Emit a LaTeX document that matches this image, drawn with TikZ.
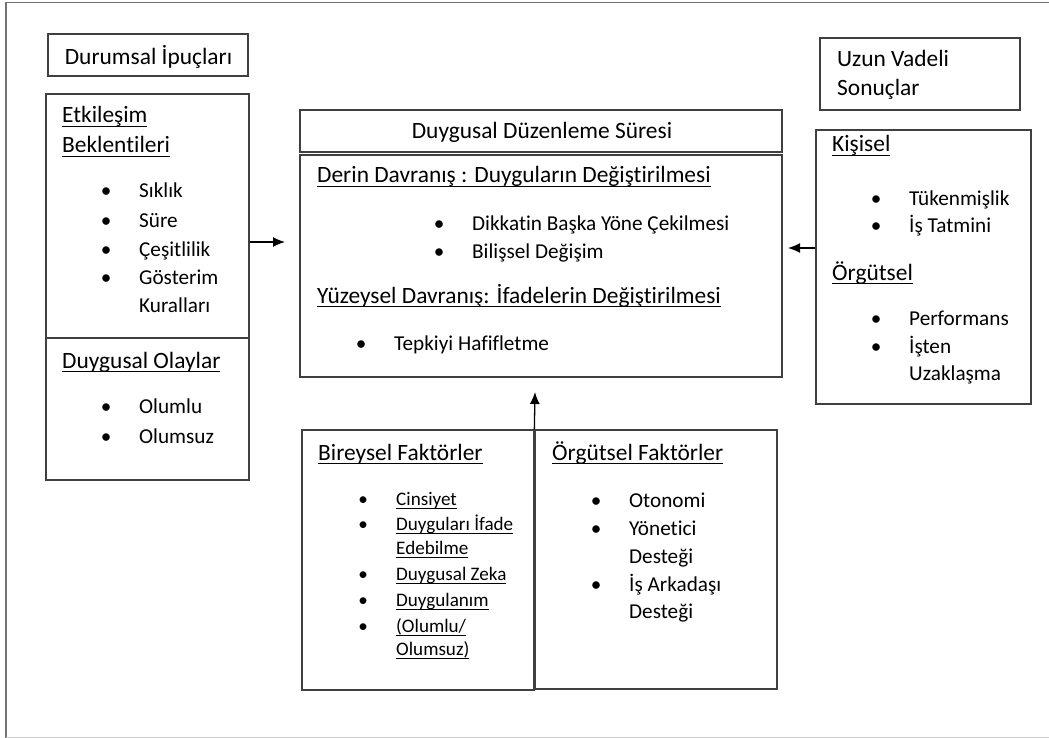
\documentclass[tikz,border=0pt]{standalone}
\usepackage{fontspec}
\setmainfont{Carlito}[Ligatures=NoCommon]
\usetikzlibrary{arrows.meta}
\newcommand\fHead{\fontsize{23.4pt}{28pt}\selectfont}
\newcommand\fItem{\fontsize{21.2pt}{26pt}\selectfont}
\newcommand\fSmall{\fontsize{19.1pt}{23pt}\selectfont}
\newcommand\undl[1]{\setbox0=\hbox{#1}\rlap{\rule[-4pt]{\wd0}{1pt}}\box0}
\newcommand\bul{\llap{\makebox[66pt][c]{•}}}
\tikzset{
  box/.style={draw=black!75, line width=1.3pt, inner sep=0pt},
  head/.style={anchor=base west, inner sep=0pt, font=\fHead},
  item/.style={anchor=base west, inner sep=0pt, font=\fItem},
  sitem/.style={anchor=base west, inner sep=0pt, font=\fSmall},
  arr/.style={line width=1.3pt, -{Latex[length=12pt,width=10pt]}}
}
\begin{document}
\begin{tikzpicture}[x=1pt, y=-1pt]
\useasboundingbox (0,0) rectangle (1049,738);
% page frame
\draw[black!55, line width=1.5pt] (6,738) -- (6,2.5) -- (1049,2.5);
\draw[black!20, line width=1pt] (6,737) -- (1049,737);
% boxes
\node[box, minimum width=200pt, minimum height=42pt] (cues) at (148,55) {};
\node[box, minimum width=203pt, minimum height=244pt] (ctxA) at (147.5,216) {};
\node[box, minimum width=203pt, minimum height=142pt] (ctxB) at (147.5,409) {};
\node[box, minimum width=482pt, minimum height=42pt] (regT) at (541,131) {};
\node[box, minimum width=482pt, minimum height=222pt] (reg) at (541,266) {};
\node[box, minimum width=200pt, minimum height=72pt] (longT) at (920,74) {};
\node[box, minimum width=215pt, minimum height=274pt] (outc) at (923.5,267) {};
\node[box, minimum width=232pt, minimum height=260pt] (indf) at (418,560) {};
\node[box, minimum width=242pt, minimum height=259pt] (orgf) at (656,559.5) {};
% arrows
\coordinate (tipL) at (285,242);
\coordinate (tipR) at (788,248);
\coordinate (tipU) at (535,392);
\draw[arr] (ctxA.east |- tipL) -- (tipL);
\draw[arr] (outc.west |- tipR) -- (tipR);
\draw[arr] (orgf.north west) -- (tipU);
% situational cues
\node[head, anchor=base] (cuesL) at (148.5,65) {Durumsal İpuçları};
\node[head] (intL1) at (62,123) {\undl{Etkileşim}};
\node[head] (intL2) at (62,153) {\undl{Beklentileri}};
\node[item] (int1) at (139,198) {\bul Sıklık};
\node[item] (int2) at (139,227) {\bul Süre};
\node[item] (int3) at (139,256) {\bul Çeşitlilik};
\node[item] (int4) at (139,284) {\bul Gösterim};
\node[item] (int4b) at (139,312) {Kuralları};
\node[head] (evL) at (62,368) {\undl{Duygusal Olaylar}};
\node[item] (ev1) at (139,413) {\bul Olumlu};
\node[item] (ev2) at (139,443) {\bul Olumsuz};
% regulation
\node[head, anchor=base] (regL) at (542,139) {Duygusal Düzenleme Süresi};
\node[head] (deepL) at (317,183) {\undl{Derin Davranış : Duyguların Değiştirilmesi}};
\node[item] (deep1) at (472,230) {\bul Dikkatin Başka Yöne Çekilmesi};
\node[item] (deep2) at (472,258) {\bul Bilişsel Değişim};
\node[head] (surfL) at (317,303) {\undl{Yüzeysel Davranış: İfadelerin Değiştirilmesi}};
\node[item] (surf1) at (394,350) {\bul Tepkiyi Hafifletme};
% long term outcomes
\node[head] (longL1) at (837,67) {Uzun Vadeli};
\node[head] (longL2) at (837,96) {Sonuçlar};
\node[head] (perL) at (832,152) {\undl{Kişisel}};
\node[item] (per1) at (909,205) {\bul Tükenmişlik};
\node[item] (per2) at (909,233) {\bul İş Tatmini};
\node[head] (orgL) at (832,280) {\undl{Örgütsel}};
\node[item] (org1) at (909,325) {\bul Performans};
\node[item] (org2) at (909,353) {\bul İşten};
\node[item] (org2b) at (909,380) {Uzaklaşma};
% individual factors
\node[head] (indL) at (318,460) {\undl{Bireysel Faktörler}};
\node[sitem] (ind1) at (396,505) {\bul\undl{Cinsiyet}};
\node[sitem] (ind2) at (396,530) {\bul\undl{Duyguları İfade}};
\node[sitem] (ind2b) at (396,554) {\undl{Edebilme}};
\node[sitem] (ind3) at (396,580) {\bul\undl{Duygusal Zeka}};
\node[sitem] (ind4) at (396,606) {\bul\undl{Duygulanım}};
\node[sitem] (ind5) at (396,632) {\bul\undl{(Olumlu/}};
\node[sitem] (ind5b) at (396,655) {\undl{Olumsuz)}};
% organisational factors
\node[head] (ofL) at (552,460) {\undl{Örgütsel Faktörler}};
\node[item] (of1) at (629,507) {\bul Otonomi};
\node[item] (of2) at (629,535) {\bul Yönetici};
\node[item] (of2b) at (629,563) {Desteği};
\node[item] (of3) at (629,591) {\bul İş Arkadaşı};
\node[item] (of3b) at (629,618) {Desteği};
\end{tikzpicture}
\end{document}
